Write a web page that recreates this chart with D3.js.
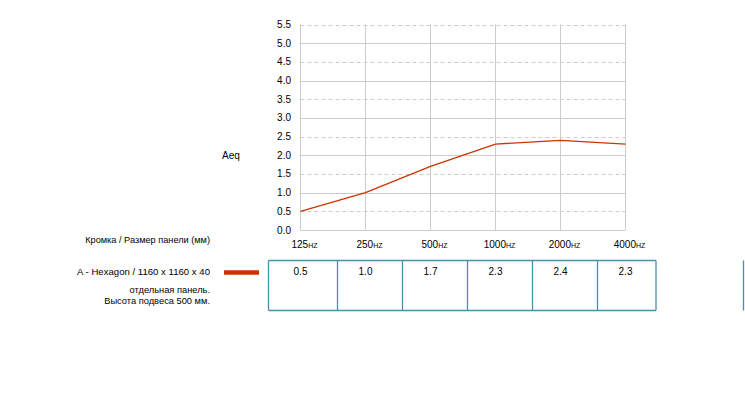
<!DOCTYPE html>
<html><head><meta charset="utf-8">
<script src="https://cdn.jsdelivr.net/npm/d3@7/dist/d3.min.js"></script>
<style>
body{margin:0;background:#fff;}
text{font-family:"Liberation Sans",Arial,sans-serif;}
</style></head>
<body><svg id="c" width="745" height="410"></svg>
<script>
const categories = ["125","250","500","1000","2000","4000"];
const values = [0.5, 1.0, 1.7, 2.3, 2.4, 2.3];
const valueLabels = ["0.5","1.0","1.7","2.3","2.4","2.3"];
const yTicks = [0,0.5,1,1.5,2,2.5,3,3.5,4,4.5,5,5.5];
const seriesName = "A - Hexagon / 1160 x 1160 x 40";
const seriesNote = ["отдельная панель.","Высота подвеса 500 мм."];
const headerLabel = "Кромка / Размер панели (мм)";
const yTitle = "Aeq";

const svg = d3.select("#c");
const x = d3.scalePoint().domain(categories).range([300.5, 625.5]);
const y = d3.scaleLinear().domain([0,5.5]).range([230, 24.5]);
const lineColor = "#cc3300";
const gridColor = "#cccccc";

// grid horizontal
const g = svg.append("g");
g.selectAll("line.h").data(yTicks).join("line")
  .attr("x1", x.range()[0]).attr("x2", x.range()[1])
  .attr("y1", d=>Math.round(y(d))+0.5).attr("y2", d=>Math.round(y(d))+0.5)
  .attr("stroke", gridColor).attr("stroke-width",1)
  .attr("stroke-dasharray", d=> (Math.round(d*2)%2===1) ? "4,3" : null);
// vertical
g.selectAll("line.v").data(categories).join("line")
  .attr("x1", d=>x(d)).attr("x2", d=>x(d))
  .attr("y1", y(5.5)).attr("y2", y(0))
  .attr("stroke", gridColor).attr("stroke-width",1);

// y labels
svg.append("g").selectAll("text").data(yTicks).join("text")
  .attr("x", 291).attr("y", d=>y(d)).attr("dy","0.35em")
  .attr("text-anchor","end").attr("font-size",10).attr("fill","#000")
  .text(d=>d3.format(".1f")(d));

// x labels
const xl = svg.append("g").selectAll("text").data(categories).join("text")
  .attr("x", d=>x(d)+4).attr("y", 248)
  .attr("text-anchor","middle").attr("font-size",10).attr("fill","#000");
xl.append("tspan").text(d=>d);
xl.append("tspan").attr("font-size",7).text("HZ");

// line
svg.append("path").datum(values)
  .attr("fill","none").attr("stroke",lineColor).attr("stroke-width",1.3)
  .attr("d", d3.line().x((d,i)=>x(categories[i])).y(d=>y(d)));

// Aeq
svg.append("text").attr("x",222).attr("y",159).attr("font-size",10).attr("fill","#000").text(yTitle);

// left texts
svg.append("text").attr("x",210).attr("y",243).attr("text-anchor","end").attr("font-size",9.2).attr("fill","#000").text(headerLabel);
svg.append("text").attr("x",210).attr("y",275).attr("text-anchor","end").attr("font-size",9.6).attr("fill","#000").text(seriesName);
svg.selectAll("text.note").data(seriesNote).join("text")
  .attr("x",210).attr("y",(d,i)=>293+i*10.5).attr("text-anchor","end").attr("font-size",9.3).attr("fill","#000").text(d=>d);

// legend swatch
svg.append("line").attr("x1",224).attr("x2",259).attr("y1",272.5).attr("y2",272.5)
  .attr("stroke",lineColor).attr("stroke-width",4.5);

// table
const tColor = "#4a90aa";
const tTop = 260.5, tBot = 310.5;
const bounds = [x(categories[0])-32].concat(categories.slice(0,-1).map(c=>x(c)+37)).concat([x(categories[categories.length-1])+30.5]);
const tg = svg.append("g");
tg.append("line").attr("x1",bounds[0]).attr("x2",bounds[bounds.length-1]).attr("y1",tTop).attr("y2",tTop).attr("stroke",tColor).attr("stroke-width",1.3);
tg.append("line").attr("x1",bounds[0]).attr("x2",bounds[bounds.length-1]).attr("y1",tBot).attr("y2",tBot).attr("stroke",tColor).attr("stroke-width",1.3);
tg.selectAll("line.b").data(bounds).join("line")
  .attr("x1",d=>d).attr("x2",d=>d).attr("y1",tTop).attr("y2",tBot).attr("stroke",tColor).attr("stroke-width",1.3);
tg.append("line").attr("x1",743.5).attr("x2",743.5).attr("y1",tTop).attr("y2",tBot).attr("stroke",tColor).attr("stroke-width",1.3);
tg.selectAll("text").data(valueLabels).join("text")
  .attr("x",(d,i)=>x(categories[i])).attr("y",275).attr("text-anchor","middle")
  .attr("font-size",10).attr("fill","#000").text(d=>d);
</script></body></html>
